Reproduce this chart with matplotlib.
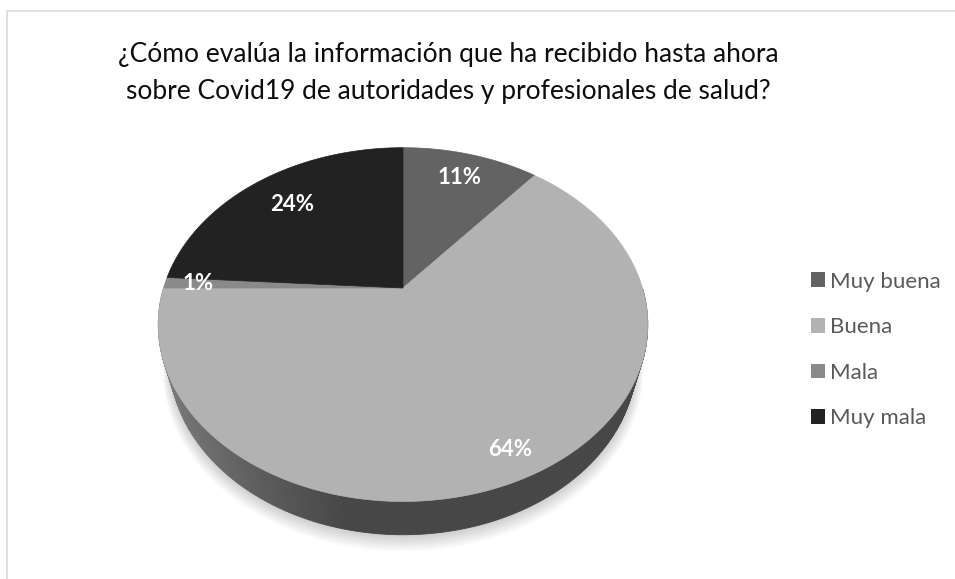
import numpy as np
import matplotlib
matplotlib.use("Agg")
import matplotlib.pyplot as plt
from matplotlib.patches import Polygon, Patch

plt.rcParams['font.family'] = ['Lato', 'DejaVu Sans']

# data
labels = ["Muy buena", "Buena", "Mala", "Muy mala"]
values = [11, 64, 1, 24]
colors = ["#636363", "#b2b2b2", "#8a8a8a", "#222222"]
title_lines = ["¿Cómo evalúa la información que ha recibido hasta ahora",
               "sobre Covid19 de autoridades y profesionales de salud?"]

# view of the 3D pie (pixels)
cx, cy = 403, 288
tilt = np.radians(45)
dist = 3.42
focal = 819
depth = 0.223
s, c = np.sin(tilt), np.cos(tilt)


def project(u, v, w=0.0):
    z = dist + v * c - w * s
    up = v * s + w * c
    return cx + focal * u / z, cy - focal * up / z


def disk(beta, r=1.0, w=0.0):
    # beta: clockwise from 12 o'clock, radians
    return project(r * np.sin(beta), r * np.cos(beta), w)


fig = plt.figure(figsize=(9.55, 5.79), dpi=100)
ax = fig.add_axes([0, 0, 1, 1])
ax.set_xlim(0, 955)
ax.set_ylim(579, 0)
ax.axis("off")

# chart frame
ax.plot([6.5, 6.5, 960], [600, 10.5, 10.5], color="#d9d9d9", lw=1.2)

# soft shadow under the pie
front = np.radians(np.linspace(60, 300, 200))
for k in range(8):
    pts = [disk(b, 1.0 + 0.004 * k, -depth) for b in front]
    pts = [(x, y + 2 + k) for x, y in pts]
    ax.add_patch(Polygon(pts + [(cx, cy)], closed=True, fc="#000000",
                         ec="none", alpha=0.025, zorder=1))

# slice angles
total = sum(values)
edges = np.cumsum([0] + values) / total * 2 * np.pi

# side wall (front half only)
n = 240
betas = np.linspace(np.pi / 2, 3 * np.pi / 2, n + 1)
for i in range(n):
    b0, b1 = betas[i], betas[i + 1]
    bm = 0.5 * (b0 + b1)
    idx = np.searchsorted(edges, bm) - 1
    base = int(colors[idx][1:3], 16) / 255
    u = np.sin(bm)
    f = 0.4 + 0.32 * np.clip((-u - 0.2) / 0.8, 0, 1)
    g = base * f
    quad = [disk(b0), disk(b1), disk(b1, w=-depth), disk(b0, w=-depth)]
    ax.add_patch(Polygon(quad, closed=True, fc=(g, g, g), ec=(g, g, g),
                         lw=0.6, zorder=2))

# top face slices
for i, col in enumerate(colors):
    bs = np.linspace(edges[i], edges[i + 1], max(4, int(values[i] * 4)))
    pts = [(cx, cy)] + [disk(b) for b in bs]
    ax.add_patch(Polygon(pts, closed=True, fc=col, ec=col, lw=0.5, zorder=3))

# data labels
label_r = [0.8, 0.88, 0.86, 0.75]
for i, v in enumerate(values):
    mid = 0.5 * (edges[i] + edges[i + 1])
    x, y = disk(mid, label_r[i])
    ax.text(x, y, f"{v}%", color="white", fontsize=16, fontweight="bold",
            ha="center", va="center", zorder=4)

for line, base_y in zip(title_lines, [62, 99]):
    ax.text(448, base_y, line, ha="center", va="baseline", fontsize=19,
            color="#0d0d0d")

handles = [Patch(fc=col, ec="none") for col in colors]
leg = fig.legend(handles, labels, loc="center left",
                 bbox_to_anchor=(811 / 955, 1 - 350 / 579), frameon=False,
                 fontsize=16, handlelength=0.65, handleheight=0.65,
                 handletextpad=0.2, labelspacing=1.15, borderpad=0,
                 borderaxespad=0)
for t in leg.get_texts():
    t.set_color("#595959")

fig.savefig("out.png", dpi=100)
